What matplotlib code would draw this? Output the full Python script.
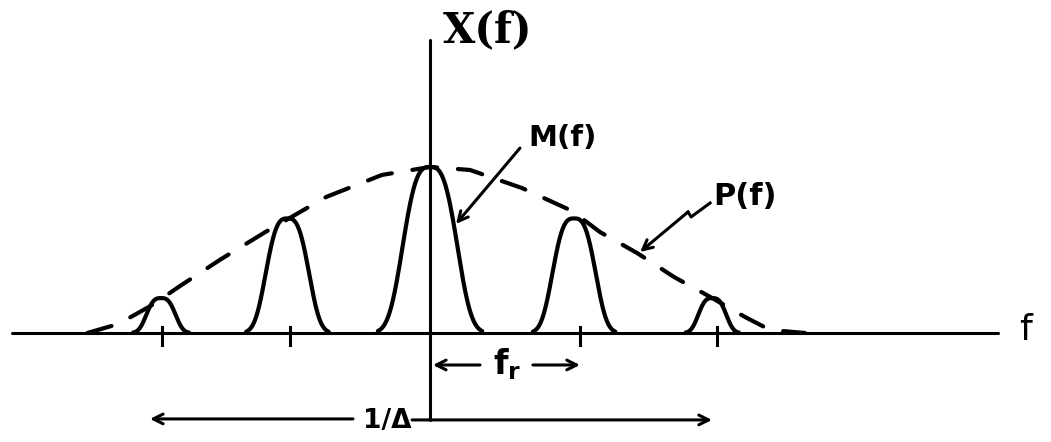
import numpy as np
import matplotlib
matplotlib.use("Agg")
import matplotlib.pyplot as plt

# Frequency axis in units of the pulse repetition frequency f_r,
# amplitude normalised to the central line.
pulse_centres = [-1.83, -0.97, 0.0, 0.98, 1.92]
pulse_heights = [0.21, 0.69, 1.0, 0.69, 0.21]
pulse_widths = [0.115, 0.17, 0.215, 0.17, 0.11]
tick_positions = [-1.82, -0.95, 1.02, 1.95]

# Envelope P(f) traced as (f, amplitude) points
envelope_f = [-2.33, -2.12, -1.90, -1.69, -1.43, -1.12, -0.707, -0.327, 0.0,
              0.272, 0.626, 0.966, 1.156, 1.408, 1.66, 1.918, 2.143, 2.313, 2.55]
envelope_a = [0.0, 0.054, 0.163, 0.289, 0.44, 0.608, 0.819, 0.952, 1.0,
              0.982, 0.873, 0.735, 0.608, 0.482, 0.337, 0.211, 0.096, 0.018, 0.0]

INK = "black"
LW_CURVE = 3.0
LW_AXIS = 2.2

plt.rcParams["lines.scale_dashes"] = False
plt.rcParams["font.family"] = ["DejaVu Sans"]
plt.rcParams["mathtext.fontset"] = "dejavusans"

fig = plt.figure(figsize=(10.51, 4.42), dpi=100)
ax = fig.add_axes([0, 0, 1, 1])
ax.set_xlim(-2.925, 4.224)
ax.set_ylim(-0.657, 2.006)
ax.axis("off")

# axes
ax.plot([-2.844, 3.864], [0, 0], color=INK, lw=LW_AXIS, solid_capstyle="round")
ax.plot([0, 0], [-0.524, 1.765], color=INK, lw=LW_AXIS, solid_capstyle="round")

# tick marks at the harmonic positions
for t in tick_positions:
    ax.plot([t, t], [0.036, -0.072], color=INK, lw=LW_AXIS)

# spectral lines M(f) replicated at multiples of f_r
def pulse_profile(u, width):
    return np.exp(-np.abs(u / width) ** 3)

for c, h, w in zip(pulse_centres, pulse_heights, pulse_widths):
    u = np.linspace(-1.65 * w, 1.65 * w, 200)
    ax.plot(c + u, h * pulse_profile(u, w), color=INK, lw=LW_CURVE,
            solid_capstyle="round", solid_joinstyle="round")

# envelope P(f)
ax.plot(envelope_f, envelope_a, color=INK, lw=LW_CURVE, dashes=(18, 15),
        dash_capstyle="round")

arrow_kw = dict(arrowstyle="->,head_length=0.7,head_width=0.35", color=INK,
                lw=LW_AXIS, shrinkA=0, shrinkB=0)

# labels
ax.text(0.088, 1.825, "X(f)", fontsize=30, family="DejaVu Serif",
        fontweight="bold", ha="left", va="center", color=INK)
ax.text(0.667, 1.175, "M(f)", fontsize=21, fontweight="bold",
        ha="left", va="center", color=INK)
ax.text(1.925, 0.82, "P(f)", fontsize=22, fontweight="bold",
        ha="left", va="center", color=INK)
ax.text(4.01, 0.02, "f", fontsize=26, ha="left", va="center", color=INK)

# pointer to M(f)
ax.annotate("", xy=(0.177, 0.657), xytext=(0.612, 1.114), arrowprops=arrow_kw)

# zig-zag pointer to P(f)
ax.plot([1.905, 1.776, 1.755], [0.783, 0.699, 0.729], color=INK, lw=LW_AXIS,
        solid_joinstyle="round")
ax.annotate("", xy=(1.429, 0.488), xytext=(1.755, 0.729), arrowprops=arrow_kw)

# f_r spacing
ax.annotate("", xy=(0.02, -0.193), xytext=(0.34, -0.193), arrowprops=arrow_kw)
ax.annotate("", xy=(1.02, -0.193), xytext=(0.70, -0.193), arrowprops=arrow_kw)
ax.text(0.524, -0.19, r"$\mathbf{f_r}$", fontsize=24, ha="center", va="center",
        color=INK)

# 1/Δ span
ax.annotate("", xy=(-1.905, -0.518), xytext=(-0.524, -0.518), arrowprops=arrow_kw)
ax.annotate("", xy=(1.918, -0.524), xytext=(-0.122, -0.524), arrowprops=arrow_kw)
ax.text(-0.29, -0.53, "1/Δ", fontsize=19, fontweight="bold",
        ha="center", va="center", color=INK)

fig.savefig("out.png", dpi=100, facecolor="white")
